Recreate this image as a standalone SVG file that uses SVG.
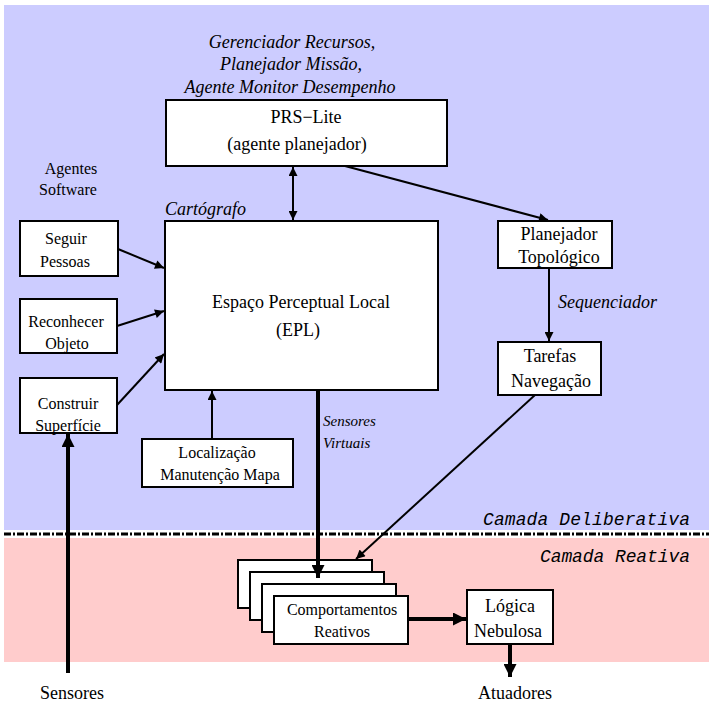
<svg xmlns="http://www.w3.org/2000/svg" width="709" height="702" viewBox="0 0 709 702">
  <defs>
    <marker id="ah" viewBox="0 0 10 10" refX="10" refY="5" markerWidth="12" markerHeight="9" markerUnits="userSpaceOnUse" orient="auto-start-reverse">
      <path d="M0,0 L10,5 L0,10 z" fill="#000"/>
    </marker>
    <marker id="ahb" viewBox="0 0 10 10" refX="10" refY="5" markerWidth="15" markerHeight="13" markerUnits="userSpaceOnUse" orient="auto-start-reverse">
      <path d="M0,0 L10,5 L0,10 z" fill="#000"/>
    </marker>
  </defs>
  <style>
    .box { fill: #fff; stroke: #000; stroke-width: 2; }
    .t { font-family: "Liberation Serif", "Times New Roman", serif; font-size: 18px; fill: #000; text-anchor: middle; }
    .s { font-size: 16px; }
    .v { font-size: 15px; text-anchor: start; }
    .i { font-style: italic; }
    .m { font-family: "Liberation Mono", "Courier New", monospace; font-style: italic; font-size: 18px; fill: #000; }
    .c { stroke: #000; stroke-width: 2; fill: none; }
    .ct { stroke: #000; stroke-width: 4; fill: none; }
  </style>

  <!-- layer backgrounds -->
  <rect x="4" y="5" width="705" height="525" fill="#ccccff"/>
  <rect x="4" y="538" width="705" height="124" fill="#ffcccc"/>
  <rect x="0" y="530" width="709" height="8" fill="#fff"/>
  <line x1="4" y1="534" x2="709" y2="534" stroke="#000" stroke-width="3" stroke-dasharray="7,2,2,2"/>

  <text class="m" x="483" y="525" textLength="207">Camada Deliberativa</text>
  <text class="m" x="540" y="562" textLength="150">Camada Reativa</text>

  <!-- free labels -->
  <text class="t i" x="292" y="48">Gerenciador Recursos,</text>
  <text class="t i" x="291" y="70">Planejador Missão,</text>
  <text class="t i" x="290" y="93">Agente Monitor Desempenho</text>
  <text class="t s" x="71" y="174">Agentes</text>
  <text class="t s" x="68" y="195">Software</text>
  <text class="t i" x="165" y="215" style="text-anchor:start">Cartógrafo</text>
  <text class="t i v" x="323" y="426">Sensores</text>
  <text class="t i v" x="323" y="448">Virtuais</text>
  <text class="t i" x="558" y="308" style="text-anchor:start">Sequenciador</text>
  <text class="t" x="72" y="699">Sensores</text>
  <text class="t" x="515" y="699">Atuadores</text>

  <!-- connectors -->
  <g id="connectors">
    <line class="c" x1="293" y1="167" x2="293" y2="220" marker-start="url(#ah)" marker-end="url(#ah)"/>
    <line class="c" x1="345" y1="166" x2="548" y2="220" marker-end="url(#ah)"/>
    <line class="c" x1="549" y1="268" x2="549" y2="341" marker-end="url(#ah)"/>
    <line class="c" x1="535" y1="395" x2="356" y2="559" marker-end="url(#ah)"/>
    <line class="c" x1="118" y1="249" x2="164" y2="268" marker-end="url(#ah)"/>
    <line class="c" x1="117" y1="326" x2="164" y2="311" marker-end="url(#ah)"/>
    <line class="c" x1="117" y1="405" x2="164" y2="354" marker-end="url(#ah)"/>
    <line class="c" x1="212" y1="439" x2="212" y2="391" marker-end="url(#ah)"/>
    <line class="ct" x1="68" y1="673" x2="68" y2="434" marker-end="url(#ahb)"/>
  </g>

  <!-- behaviour stack -->
  <g id="comportamentos">
    <rect class="box" x="238" y="560" width="134" height="48"/>
    <rect class="box" x="250" y="572" width="134" height="48"/>
    <rect class="box" x="262" y="584" width="134" height="48"/>
    <rect class="box" x="274" y="596" width="134" height="48"/>
    <text class="t s" x="342" y="615">Comportamentos</text>
    <text class="t s" x="342" y="637">Reativos</text>
  </g>

  <g id="connectors-thick">
    <line class="ct" x1="318" y1="390" x2="318" y2="578" marker-end="url(#ahb)"/>
    <line class="ct" x1="408" y1="619" x2="466" y2="619" marker-end="url(#ahb)"/>
    <line class="ct" x1="510" y1="644" x2="510" y2="677" marker-end="url(#ahb)"/>
  </g>

  <g id="prs">
    <rect class="box" x="166" y="100" width="281" height="66"/>
    <text class="t" x="306" y="123">PRS−Lite</text>
    <text class="t" x="297" y="150">(agente planejador)</text>
  </g>
  <g id="epl">
    <rect class="box" x="165" y="221" width="273" height="169"/>
    <text class="t" x="301" y="308">Espaço Perceptual Local</text>
    <text class="t" x="298" y="336">(EPL)</text>
  </g>
  <g id="seguir">
    <rect class="box" x="20" y="221" width="98" height="55"/>
    <text class="t s" x="66" y="244">Seguir</text>
    <text class="t s" x="65" y="267">Pessoas</text>
  </g>
  <g id="reconhecer">
    <rect class="box" x="20" y="299" width="97" height="54"/>
    <text class="t s" x="66" y="327">Reconhecer</text>
    <text class="t s" x="67" y="349">Objeto</text>
  </g>
  <g id="construir">
    <rect class="box" x="20" y="378" width="97" height="55"/>
    <text class="t s" x="68" y="409">Construir</text>
    <text class="t s" x="68" y="431">Superfície</text>
  </g>
  <g id="localizacao">
    <rect class="box" x="142" y="439" width="151" height="48"/>
    <text class="t s" x="217" y="458">Localização</text>
    <text class="t s" x="220" y="480">Manutenção Mapa</text>
  </g>
  <g id="planejador">
    <rect class="box" x="498" y="221" width="114" height="47"/>
    <text class="t" x="559" y="240">Planejador</text>
    <text class="t" x="559" y="263">Topológico</text>
  </g>
  <g id="tarefas">
    <rect class="box" x="498" y="342" width="103" height="53"/>
    <text class="t" x="550" y="362">Tarefas</text>
    <text class="t" x="551" y="387">Navegação</text>
  </g>
  <g id="logica">
    <rect class="box" x="467" y="590" width="86" height="54"/>
    <text class="t" x="510" y="612">Lógica</text>
    <text class="t" x="508" y="637">Nebulosa</text>
  </g>
</svg>
